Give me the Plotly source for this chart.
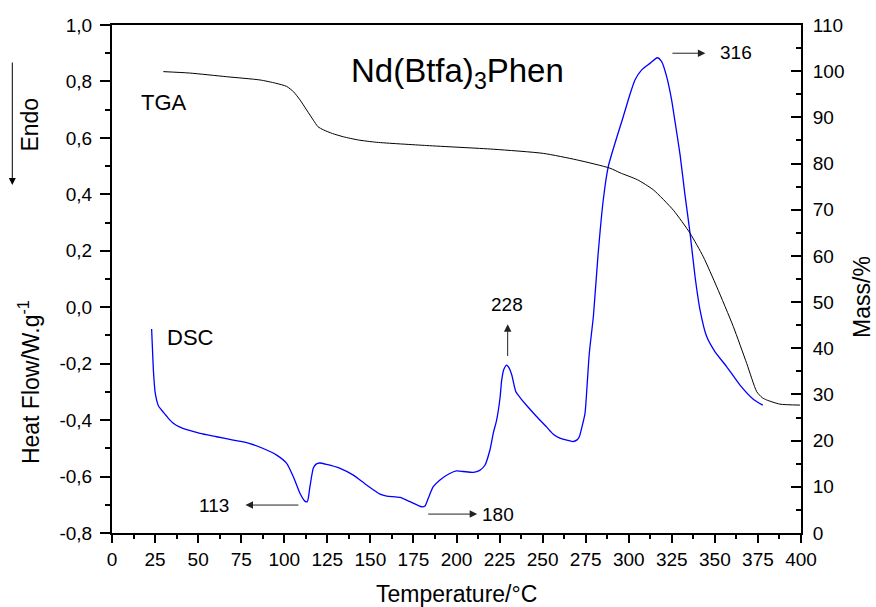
import plotly.graph_objects as go

# ---- data ----
dsc_T = [23.0, 23.5, 24.0, 24.4, 25.0, 25.9, 27.0, 29.8, 32.5, 35.6, 39.5, 43.4, 51.1, 60.8,
         70.4, 80.1, 89.8, 95.6, 101.4, 105.3, 109.1, 112.0, 113.4, 114.9, 116.9, 118.5,
         120.5, 124.6, 132.4, 140.1, 147.8, 155.6, 159.5, 167.2, 173.0, 179.8, 181.7, 183.6,
         186.5, 190.4, 195.8, 200.0, 204.0, 209.8, 213.5, 216.5, 219.4, 221.4, 223.3, 225.3,
         226.2, 227.5, 229.1, 230.5, 232.1, 234.5, 236.9, 241.0, 246.6, 252.4, 256.2, 260.0,
         264.0, 267.5, 270.0, 271.3, 273.0, 274.6, 276.0, 277.1, 279.5, 282.1, 285.2, 288.1,
         292.0, 296.8, 300.5, 303.6, 307.5, 312.3, 316.6, 319.1, 322.0, 324.9, 326.8, 329.8,
         332.6, 335.6, 338.5, 341.4, 345.3, 350.1, 356.9, 364.6, 372.3, 377.8]
dsc_HF = [-0.077, -0.15, -0.22, -0.258, -0.30, -0.329, -0.350, -0.372, -0.392, -0.411, -0.425,
          -0.434, -0.447, -0.459, -0.471, -0.483, -0.506, -0.524, -0.553, -0.601, -0.659,
          -0.687, -0.689, -0.636, -0.570, -0.556, -0.552, -0.557, -0.571, -0.595, -0.630,
          -0.662, -0.669, -0.674, -0.689, -0.707, -0.704, -0.677, -0.636, -0.612, -0.590,
          -0.580, -0.582, -0.585, -0.578, -0.560, -0.506, -0.445, -0.400, -0.320, -0.260,
          -0.220, -0.205, -0.215, -0.240, -0.300, -0.320, -0.350, -0.388, -0.425, -0.450,
          -0.464, -0.471, -0.476, -0.470, -0.459, -0.420, -0.376, -0.260, -0.163, -0.030,
          0.180, 0.380, 0.498, 0.581, 0.675, 0.750, 0.805, 0.841, 0.864, 0.884, 0.870,
          0.817, 0.734, 0.660, 0.540, 0.400, 0.262, 0.108, -0.010, -0.105, -0.158, -0.211,
          -0.276, -0.326, -0.347]

tga_T = [29.8, 45.0, 66.6, 85.9, 95.0, 101.4, 105.5, 109.1, 113.0, 116.9, 119.5, 122.7, 128.0,
         134.3, 143.0, 153.7, 182.7, 221.4, 250.4, 269.8, 289.1, 294.9, 305.0, 314.3, 325.9,
         335.6, 343.3, 351.1, 360.7, 368.5, 374.3, 377.5, 380.1, 387.8, 399.4]
tga_mass = [99.9, 99.6, 98.8, 98.1, 97.4, 96.7, 95.5, 93.8, 91.6, 89.4, 88.0, 87.3, 86.5,
            85.8, 85.1, 84.6, 83.9, 83.1, 82.2, 80.8, 79.0, 78.0, 76.5, 74.3, 69.9,
            64.9, 59.8, 53.3, 44.7, 36.7, 30.6, 29.3, 28.8, 27.9, 27.7]

hf_tickvals = [-0.8, -0.6, -0.4, -0.2, 0.0, 0.2, 0.4, 0.6, 0.8, 1.0]
hf_ticktext = ["-0,8", "-0,6", "-0,4", "-0,2", "0,0", "0,2", "0,4", "0,6", "0,8", "1,0"]

peak_labels = ["113", "180", "228", "316"]

FONT = "Liberation Sans, Arial, sans-serif"

fig = go.Figure()
fig.add_trace(go.Scatter(x=tga_T, y=tga_mass, mode="lines", yaxis="y2",
                         line=dict(color="black", width=1, shape="spline", smoothing=0.6),
                         showlegend=False, hoverinfo="skip"))
fig.add_trace(go.Scatter(x=dsc_T, y=dsc_HF, mode="lines", yaxis="y",
                         line=dict(color="#0000ff", width=1.3, shape="spline", smoothing=0.6),
                         showlegend=False, hoverinfo="skip"))

C = dict(xanchor="center", yanchor="middle", showarrow=False)
ann = []
# texts on plot
ann.append(dict(x=0.502, y=0.905, xref="paper", yref="paper",
                text="Nd(Btfa)<sub>3</sub>Phen", font=dict(size=33, family=FONT, color="black"), **C))
ann.append(dict(x=30.2, y=0.724, xref="x", yref="y", text="TGA",
                font=dict(size=22, family=FONT, color="black"), **C))
ann.append(dict(x=45.3, y=-0.109, xref="x", yref="y", text="DSC",
                font=dict(size=22, family=FONT, color="black"), **C))

# peak labels
lab_font = dict(size=19, family=FONT, color="black")
ann.append(dict(x=59.2, y=-0.701, xref="x", yref="y", text=peak_labels[0], font=lab_font, **C))
ann.append(dict(x=224.1, y=-0.733, xref="x", yref="y", text=peak_labels[1], font=lab_font, **C))
ann.append(dict(x=229.3, y=0.010, xref="x", yref="y", text=peak_labels[2], font=lab_font, **C))
ann.append(dict(x=362.1, y=0.904, xref="x", yref="y", text=peak_labels[3], font=lab_font, **C))

# arrows (head at x,y ; tail at ax,ay)
arr = dict(showarrow=True, arrowhead=2, arrowsize=1.5, arrowwidth=1, arrowcolor="#222",
           text="", xref="x", yref="y", axref="x", ayref="y")
ann.append(dict(x=77.5, y=-0.701, ax=109.1, ay=-0.701, **arr))
ann.append(dict(x=212.0, y=-0.733, ax=182.7, ay=-0.733, **arr))
ann.append(dict(x=229.7, y=-0.060, ax=229.7, ay=-0.178, **arr))
ann.append(dict(x=344.5, y=0.900, ax=324.5, ay=0.900, **arr))

# Endo arrow and text
ann.append(dict(x=-0.1447, y=0.685, xref="paper", yref="paper", ax=0, ay=-124,
                showarrow=True, arrowhead=2, arrowsize=1.4, arrowwidth=1, arrowcolor="black", text=""))
ann.append(dict(x=-0.119, y=0.804, xref="paper", yref="paper", text="Endo",
                textangle=-90, font=dict(size=23, family=FONT, color="black"), **C))

# axis titles
ttl_font = dict(size=23, family=FONT, color="black")
ann.append(dict(x=-0.1205, y=0.297, xref="paper", yref="paper",
                text="Heat Flow/W.g<sup>-1</sup>", textangle=-90, font=ttl_font, **C))
ann.append(dict(x=1.0885, y=0.4646, xref="paper", yref="paper", borderpad=0,
                text="Mass/%", textangle=-90, font=ttl_font, **C))
ann.append(dict(x=0.4993, y=-0.120, xref="paper", yref="paper",
                text="Temperature/°C", font=ttl_font, **C))

tick_font = dict(size=19, family=FONT, color="black")
fig.update_layout(
    width=876, height=607,
    margin=dict(l=112, r=75, t=25, b=74, pad=0),
    paper_bgcolor="white", plot_bgcolor="white",
    font=dict(family=FONT, color="black"),
    separators=",.",
    annotations=ann,
    hovermode=False,
    xaxis=dict(range=[0, 400], tickmode="linear", tick0=0, dtick=25,
               ticks="outside", ticklen=8, tickwidth=2, tickcolor="black",
               minor=dict(ticks="outside", dtick=12.5, ticklen=4, tickwidth=2, tickcolor="black"),
               showline=True, linewidth=2, linecolor="black", mirror=True,
               showgrid=False, zeroline=False, tickfont=tick_font),
    yaxis=dict(range=[-0.8, 1.0], tickmode="array", tickvals=hf_tickvals, ticktext=hf_ticktext,
               ticks="outside", ticklen=10, tickwidth=2, tickcolor="black",
               minor=dict(ticks="outside", dtick=0.1, ticklen=5, tickwidth=2, tickcolor="black"),
               showline=True, linewidth=2, linecolor="black",
               showgrid=False, zeroline=False, tickfont=tick_font, ticklabelstandoff=4),
    yaxis2=dict(range=[0, 110], overlaying="y", side="right", tickmode="linear", tick0=0, dtick=10,
                ticks="inside", ticklen=10, tickwidth=2, tickcolor="black",
                minor=dict(ticks="inside", dtick=5, ticklen=5, tickwidth=2, tickcolor="black"),
                showline=True, linewidth=2, linecolor="black",
                showgrid=False, zeroline=False, tickfont=tick_font, ticklabelstandoff=6),
)

fig.write_html("out.html", config={"displayModeBar": False},
               post_script="document.body.style.margin='0px';")
